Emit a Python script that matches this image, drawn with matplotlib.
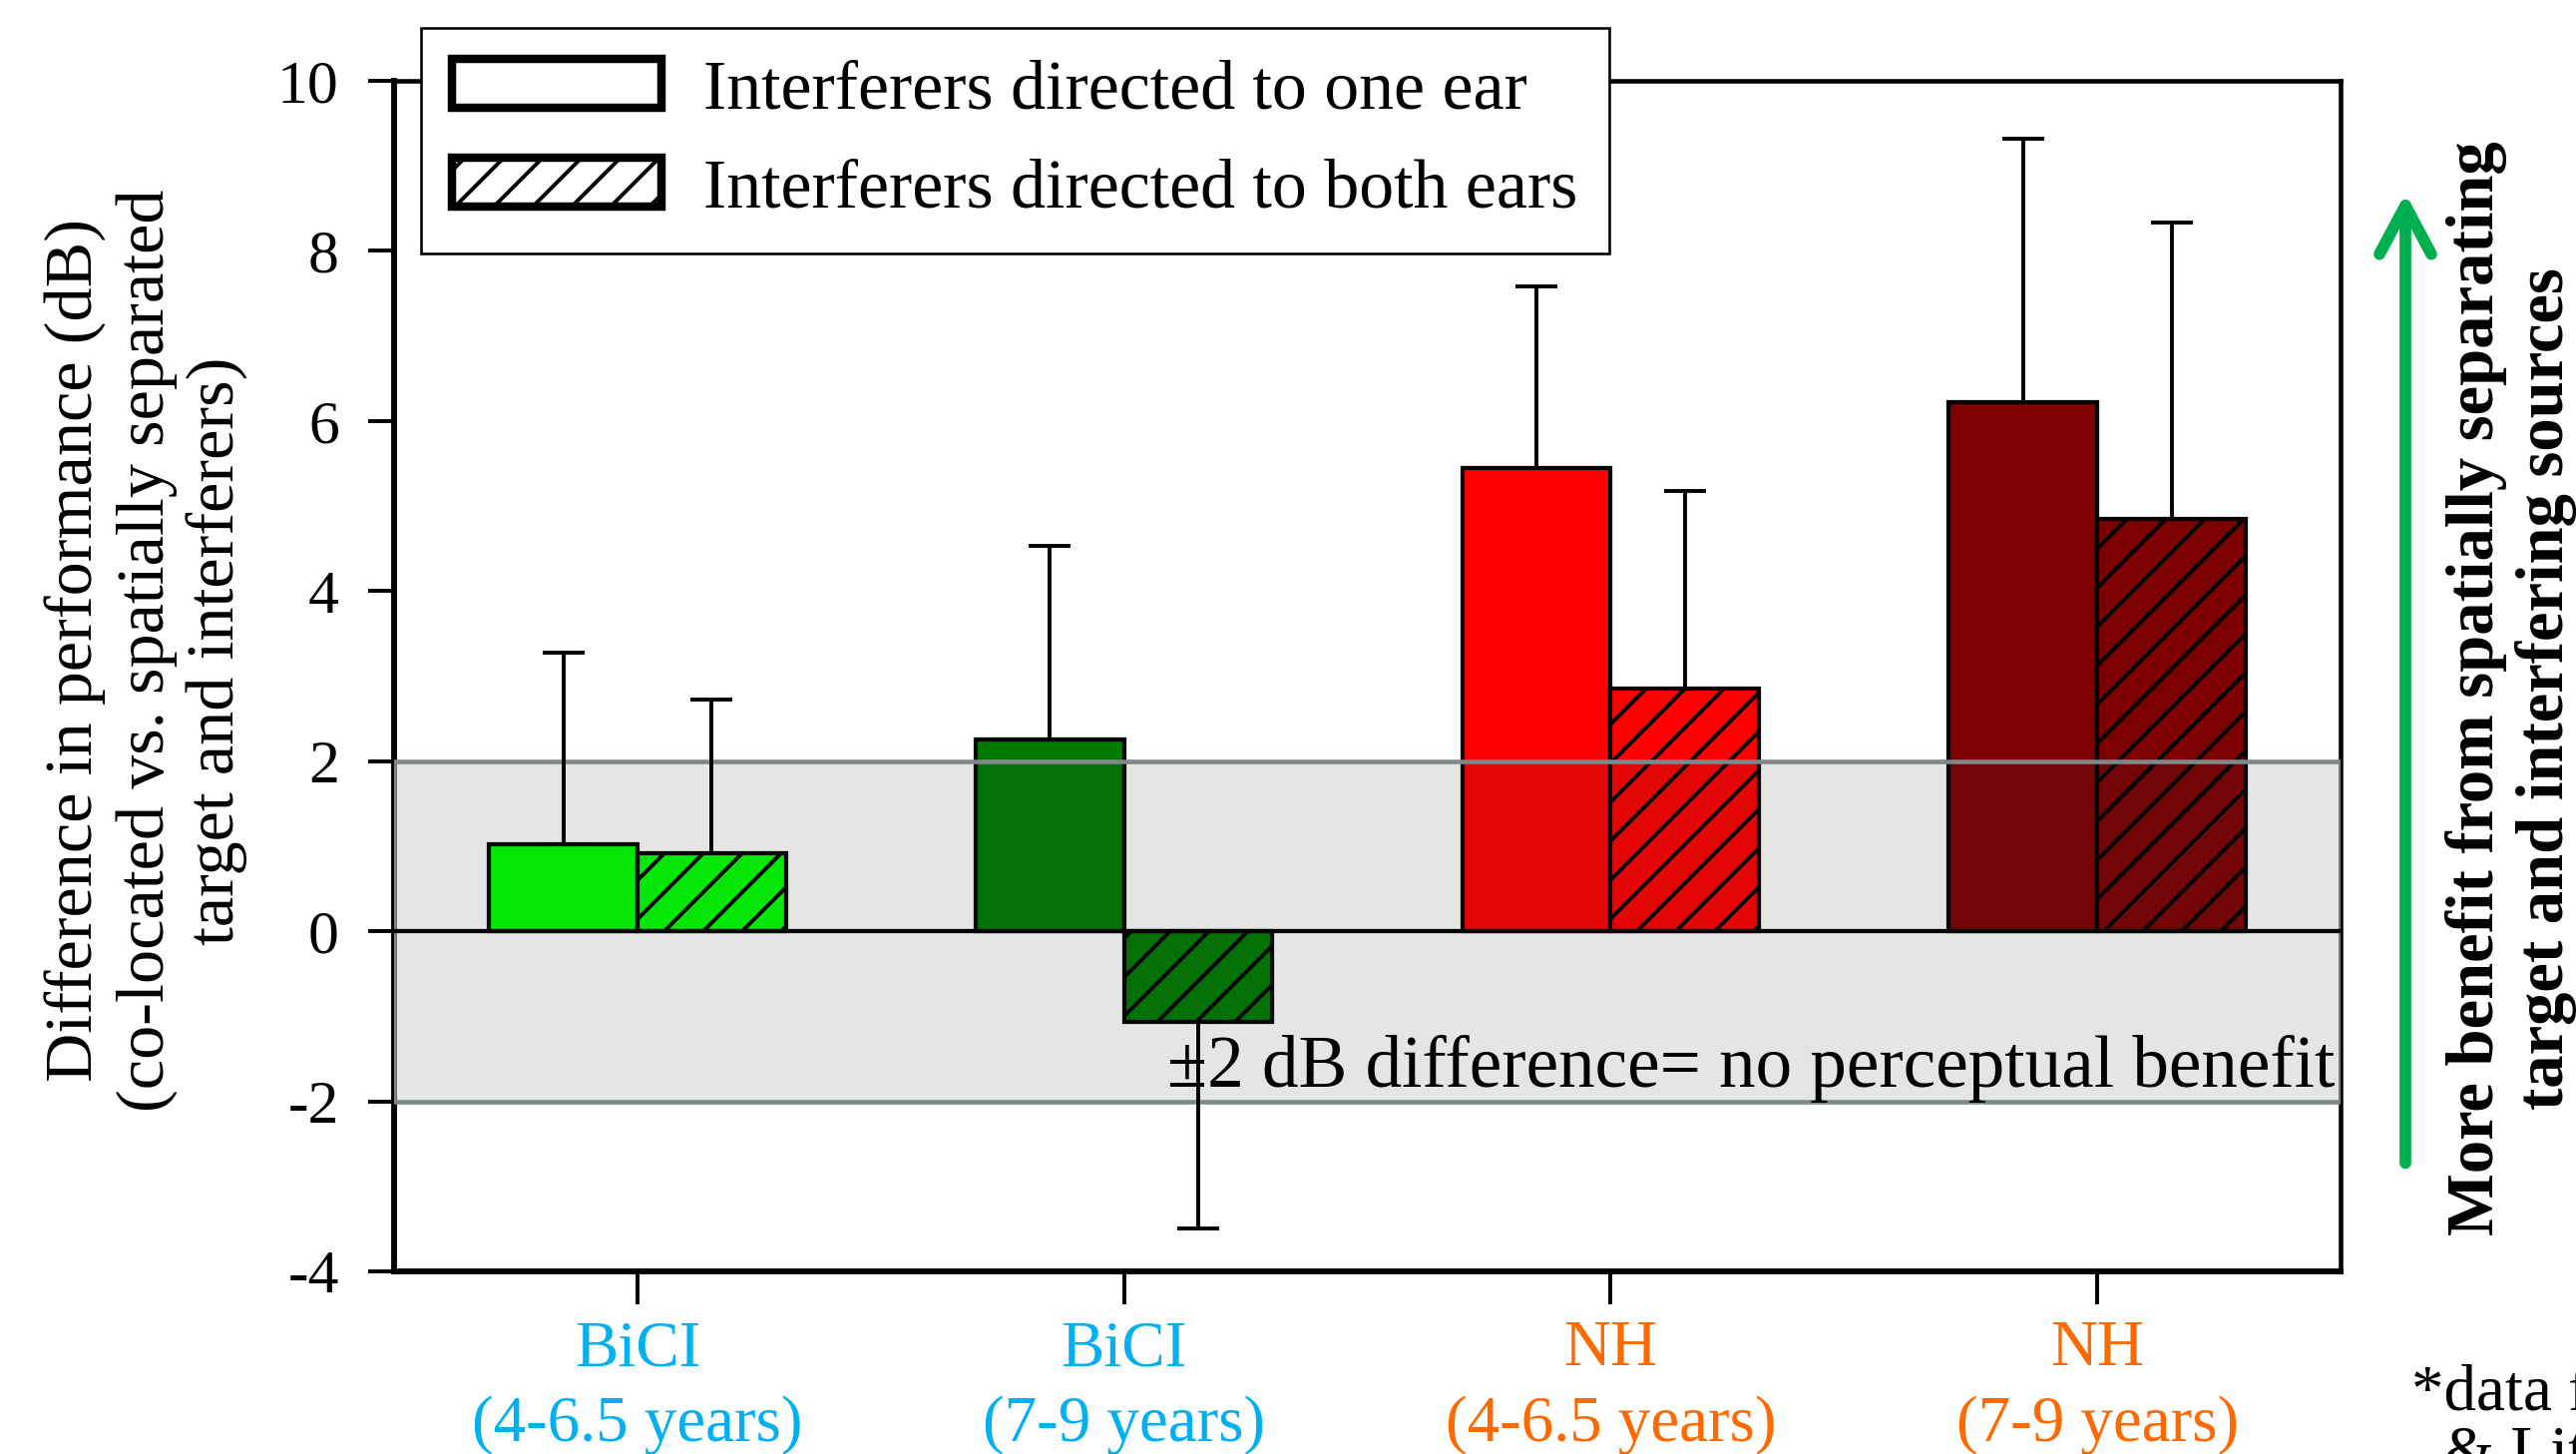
import matplotlib

matplotlib.use("Agg")
import matplotlib.pyplot as plt
from matplotlib.patches import Patch, FancyArrowPatch
import numpy as np

# values (dB)
groups = ["BiCI\n(4-6.5 years)", "BiCI\n(7-9 years)", "NH\n(4-6.5 years)", "NH\n(7-9 years)"]
group_label_colors = ["#00b0f0", "#00b0f0", "#ff6a00", "#ff6a00"]
bar_colors = ["#00ff00", "#007a00", "#ff0000", "#7d0000"]

one_ear_mean = [1.02, 2.25, 5.45, 6.22]
one_ear_err = [2.26, 2.28, 2.13, 3.10]
both_ears_mean = [0.92, -1.07, 2.85, 4.85]
both_ears_err = [1.81, 2.43, 2.33, 3.48]

yticks = [-4, -2, 0, 2, 4, 6, 8, 10]
legend_labels = ["Interferers directed to one ear", "Interferers directed to both ears"]

plt.rcParams["font.family"] = ["Liberation Serif", "DejaVu Serif"]
plt.rcParams["axes.unicode_minus"] = False
plt.rcParams["hatch.linewidth"] = 1.2

DPI = 234
fig = plt.figure(figsize=(2582 / DPI, 1457 / DPI), dpi=DPI)
ax = fig.add_axes([0.153, 0.1256, 0.7556, 0.8188])

x = np.arange(len(groups))
w = 0.305


def one_sided(mean, err):
    mean = np.asarray(mean)
    err = np.asarray(err)
    lower = np.where(mean < 0, err, 0.0)
    upper = np.where(mean < 0, 0.0, err)
    return [lower, upper]


ax.bar(x - w / 2, one_ear_mean, w, color=bar_colors, edgecolor="black", linewidth=1.3, zorder=2)
ax.bar(x + w / 2, both_ears_mean, w, color=bar_colors, edgecolor="black", linewidth=1.3,
       hatch="//", zorder=2)

# +-2 dB band drawn over the bars
ax.axhspan(-2, 2, facecolor=(0.16, 0.2, 0.2, 0.12), edgecolor="#7f8888", linewidth=1.4, zorder=3)
ax.axhline(0, color="black", linewidth=1.3, zorder=4)

ax.errorbar(x - w / 2, one_ear_mean, yerr=one_sided(one_ear_mean, one_ear_err), fmt="none",
            ecolor="black", elinewidth=1.2, capsize=6.6, capthick=1.2, zorder=5)
ax.errorbar(x + w / 2, both_ears_mean, yerr=one_sided(both_ears_mean, both_ears_err), fmt="none",
            ecolor="black", elinewidth=1.2, capsize=6.6, capthick=1.2, zorder=5)

ax.text(0.997, -1.62, "\u00b12 dB difference= no perceptual benefit", transform=ax.get_yaxis_transform(),
        ha="right", va="center", fontsize=22.5, zorder=6)

ax.set_xlim(-0.5, 3.5)
ax.set_ylim(-4, 10)
ax.set_yticks(yticks)
ax.set_yticklabels([str(t) for t in yticks])
ax.set_xticks(x)
ax.set_xticklabels(groups, fontsize=20, linespacing=1.35)
for lbl, c in zip(ax.get_xticklabels(), group_label_colors):
    lbl.set_color(c)
ax.tick_params(axis="y", direction="out", length=8, width=1.2, pad=9, labelsize=19)
ax.tick_params(axis="x", direction="out", length=10, width=1.2, pad=5)
for s in ax.spines.values():
    s.set_linewidth(1.4)
ax.spines["left"].set_linewidth(1.8)
ax.spines["bottom"].set_linewidth(1.8)

fig.text(147 / 2582, 1 - 652 / 1457,
         "Difference in performance (dB)\n(co-located vs. spatially separated\ntarget and interferers)",
         rotation=90, ha="center", va="center", multialignment="center", fontsize=21, linespacing=1.18)

handles = [
    Patch(facecolor="white", edgecolor="black", linewidth=2.6),
    Patch(facecolor="white", edgecolor="black", linewidth=2.6, hatch="//"),
]
leg = ax.legend(handles, legend_labels, loc="upper left", bbox_to_anchor=(422 / 2582, 1 - 28 / 1457),
                bbox_transform=fig.transFigure, fontsize=21.5, frameon=True, fancybox=False,
                edgecolor="black", framealpha=1, borderaxespad=0, handlelength=3.0, handleheight=0.7,
                handletextpad=0.6, labelspacing=0.5, borderpad=0.45)
leg.get_frame().set_linewidth(0.8)
leg.set_zorder(10)

arrow = FancyArrowPatch((2411 / 2582, 1 - 1172 / 1457), (2411 / 2582, 1 - 187 / 1457),
                        transform=fig.transFigure, arrowstyle="->,head_length=0.75,head_width=0.4",
                        mutation_scale=20, color="#00b050", linewidth=3.6, capstyle="round")
fig.add_artist(arrow)

fig.text(2517 / 2582, 1 - 690 / 1457,
         "More benefit from spatially separating\ntarget and interfering sources",
         rotation=90, ha="center", va="center", multialignment="center", fontsize=20.5,
         fontweight="bold", linespacing=1.15)

fig.text(2417 / 2582, 1 - 1428 / 1457, "*data from Misurelli\n  & Litovsky (2012)", ha="left", va="center",
         multialignment="left", fontsize=20, linespacing=1.0)

fig.savefig("out.png", dpi=DPI)
